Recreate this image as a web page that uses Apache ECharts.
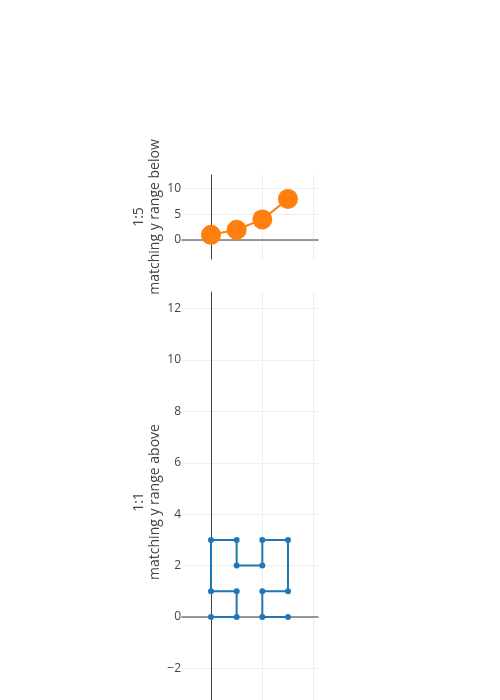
<!DOCTYPE html>
<html>
<head>
    <meta charset="utf-8">
    <title>scaleanchor</title>
    <script src="https://cdn.jsdelivr.net/npm/echarts@6/dist/echarts.min.js"></script>
    <style>
        html, body { margin: 0; padding: 0; background: #fff; }
        #main { width: 500px; height: 700px; }
    </style>
</head>
<body>
<div id="main"></div>
<script type="text/javascript">
    // top trace (1:5)
    var topX = [0, 1, 2, 3];
    var topY = [1, 2, 4, 8];
    // bottom trace (1:1)
    var bottomX = [0, 1, 1, 0, 0, 1, 1, 2, 2, 3, 3, 2, 2, 3];
    var bottomY = [0, 0, 1, 1, 3, 3, 2, 2, 3, 3, 1, 1, 0, 0];
    // axis ranges
    var xRange = [-1.13, 4.17];
    var yRange = [-3.7, 12.65];
    var topYTicks = [0, 5, 10];
    var bottomYTicks = [-2, 0, 2, 4, 6, 8, 10, 12];

    function pairs(xs, ys) {
        var out = [];
        for (var i = 0; i < xs.length; i++) {
            out.push([xs[i], ys[i]]);
        }
        return out;
    }

    var font = '"Open Sans", sans-serif';

    function xAxisCfg(idx) {
        return {
            type: 'value',
            gridIndex: idx,
            min: xRange[0],
            max: xRange[1],
            splitNumber: 3,
            axisLine: { onZero: true, lineStyle: { color: '#777', width: 1.5 } },
            axisTick: { show: false },
            axisLabel: { show: false },
            splitLine: { show: true, showMinLine: false, showMaxLine: false, lineStyle: { color: '#eee', width: 1 } }
        };
    }

    // no interval here: ticks are niced from the data range (0, 5, 10 / -2 .. 12)
    function yAxisCfg(idx, ticks, split, name) {
        return {
            type: 'value',
            gridIndex: idx,
            min: yRange[0],
            max: yRange[1],
            splitNumber: split,
            name: name,
            nameLocation: 'middle',
            nameRotate: 90,
            nameGap: 13,
            nameTextStyle: { fontFamily: font, fontSize: 14, color: '#444', lineHeight: 16 },
            axisLine: { onZero: true, lineStyle: { color: '#444', width: 1 } },
            axisTick: { show: false },
            axisLabel: {
                fontFamily: font, fontSize: 12, color: '#444', margin: 1,
                showMinLabel: false, showMaxLabel: false,
                formatter: function (v) {
                    return ticks.indexOf(v) > -1 ? String(v).replace('-', '\u2212') : '';
                }
            },
            splitLine: { show: true, showMinLine: false, showMaxLine: false, lineStyle: { color: '#eee', width: 1 } }
        };
    }

    var myChart = echarts.init(document.getElementById('main'));
    var option = {
        animation: false,
        grid: [
            // bottom plot runs past the page edge, so don't let echarts shrink it
            { left: 182, top: 175, width: 136, height: 84, outerBoundsMode: 'none' },
            { left: 182, top: 292, width: 136, height: 420, outerBoundsMode: 'none' }
        ],
        xAxis: [xAxisCfg(0), xAxisCfg(1)],
        yAxis: [
            yAxisCfg(0, topYTicks, 3, '1:5\nmatching y range below'),
            yAxisCfg(1, bottomYTicks, 8, '1:1\nmatching y range above')
        ],
        series: [
            {
                type: 'line',
                xAxisIndex: 0,
                yAxisIndex: 0,
                data: pairs(topX, topY),
                symbol: 'circle',
                symbolSize: 20,
                itemStyle: { color: '#ff7f0e' },
                lineStyle: { color: '#ff7f0e', width: 2 }
            },
            {
                type: 'line',
                xAxisIndex: 1,
                yAxisIndex: 1,
                data: pairs(bottomX, bottomY),
                symbol: 'circle',
                symbolSize: 6,
                itemStyle: { color: '#1f77b4' },
                lineStyle: { color: '#1f77b4', width: 2 }
            }
        ]
    };
    myChart.setOption(option);
</script>
</body>
</html>
